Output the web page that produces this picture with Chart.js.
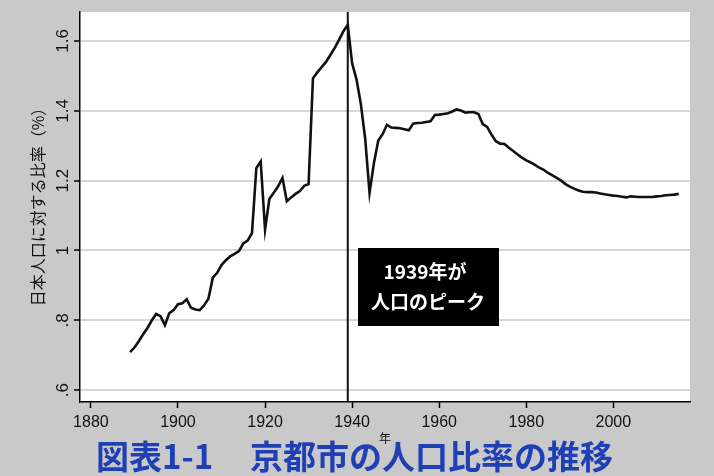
<!DOCTYPE html>
<html>
<head>
<meta charset="utf-8">
<script src="https://cdn.jsdelivr.net/npm/chart.js@4"></script>
<style>
  html, body { margin: 0; padding: 0; background: #c9c9c9; }
  canvas { display: block; }
</style>
</head>
<body>
<canvas id="chart" width="714" height="476"></canvas>
<script>
// 京都市の人口 / 日本の人口 (%)
const years = [
  1889, 1890, 1891, 1892, 1893, 1894, 1895, 1896, 1897, 1898, 1899,
  1900, 1901, 1902, 1903, 1904, 1905, 1906, 1907, 1908, 1909,
  1910, 1911, 1912, 1913, 1914, 1915, 1916, 1917, 1918, 1919,
  1920, 1921, 1922, 1923, 1924, 1925, 1926, 1927, 1928, 1929,
  1930, 1931, 1932, 1933, 1934, 1935, 1936, 1937, 1938, 1939,
  1940, 1941, 1942, 1943, 1944, 1945, 1946, 1947, 1948, 1949,
  1950, 1951, 1952, 1953, 1954, 1955, 1956, 1957, 1958, 1959,
  1960, 1961, 1962, 1963, 1964, 1965, 1966, 1967, 1968, 1969,
  1970, 1971, 1972, 1973, 1974, 1975, 1976, 1977, 1978, 1979,
  1980, 1981, 1982, 1983, 1984, 1985, 1986, 1987, 1988, 1989,
  1990, 1991, 1992, 1993, 1994, 1995, 1996, 1997, 1998, 1999,
  2000, 2001, 2002, 2003, 2004, 2005, 2006, 2007, 2008, 2009,
  2010, 2011, 2012, 2013, 2014, 2015
];
const ratio = [
  0.709, 0.722, 0.740, 0.760, 0.778, 0.800, 0.818, 0.812, 0.786, 0.820, 0.829,
  0.846, 0.849, 0.860, 0.836, 0.831, 0.829, 0.843, 0.862, 0.922, 0.936,
  0.958, 0.972, 0.983, 0.990, 0.998, 1.020, 1.028, 1.050, 1.236, 1.255,
  1.060, 1.148, 1.165, 1.184, 1.208, 1.141, 1.152, 1.162, 1.170, 1.185,
  1.190, 1.493, 1.510, 1.525, 1.540, 1.560, 1.580, 1.603, 1.628, 1.646,
  1.536, 1.490, 1.420, 1.320, 1.165, 1.250, 1.315, 1.333, 1.360, 1.352,
  1.351, 1.350, 1.347, 1.344, 1.363, 1.365, 1.366, 1.368, 1.370, 1.388,
  1.389, 1.391, 1.393, 1.398, 1.404, 1.401, 1.395, 1.396, 1.396, 1.391,
  1.362, 1.354, 1.332, 1.313, 1.306, 1.305, 1.294, 1.285, 1.275, 1.266,
  1.258, 1.252, 1.245, 1.237, 1.231, 1.222, 1.215, 1.208, 1.200, 1.190,
  1.183, 1.177, 1.172, 1.168, 1.167, 1.167, 1.166, 1.163, 1.161, 1.159,
  1.157, 1.156, 1.154, 1.152, 1.155, 1.154, 1.153, 1.153, 1.153, 1.153,
  1.155, 1.156, 1.158, 1.159, 1.160, 1.162
];
const xTicks = [1880, 1900, 1920, 1940, 1960, 1980, 2000];
const yTicks = [0.6, 0.8, 1.0, 1.2, 1.4, 1.6];
const yTickLabels = ['.6', '.8', '1', '1.2', '1.4', '1.6'];
const peakYear = 1939;

const LATIN = '"Liberation Sans", Arial, sans-serif';
const JP = '"Noto Sans CJK JP", sans-serif';

const decor = {
  id: 'decor',
  beforeDraw(chart) {
    const { ctx, chartArea: a } = chart;
    ctx.save();
    ctx.fillStyle = '#c9c9c9';
    ctx.fillRect(0, 0, chart.width, chart.height);
    ctx.fillStyle = '#ffffff';
    ctx.fillRect(a.left, a.top, a.right - a.left, a.bottom - a.top);
    ctx.restore();
  },
  afterDatasetsDraw(chart) {
    const { ctx, chartArea: a, scales: { x, y } } = chart;
    ctx.save();

    // 1939年の縦線
    const px = x.getPixelForValue(peakYear);
    ctx.strokeStyle = '#111';
    ctx.lineWidth = 2;
    ctx.beginPath();
    ctx.moveTo(px, a.top);
    ctx.lineTo(px, a.bottom);
    ctx.stroke();

    // 注記
    ctx.fillStyle = '#000';
    ctx.fillRect(358, 248, 141, 78);
    ctx.fillStyle = '#fff';
    ctx.font = 'bold 19px ' + JP;
    ctx.textAlign = 'center';
    ctx.textBaseline = 'middle';
    ctx.fillText('1939年が', 425, 272);
    ctx.fillText('人口のピーク', 428, 302);

    // y目盛ラベル（回転）
    ctx.fillStyle = '#111';
    ctx.font = '17px ' + LATIN;
    yTicks.forEach((v, i) => {
      ctx.save();
      ctx.translate(63, y.getPixelForValue(v));
      ctx.rotate(-Math.PI / 2);
      ctx.fillText(yTickLabels[i], 0, 0);
      ctx.restore();
    });

    // y軸タイトル
    ctx.save();
    ctx.translate(38, 203);
    ctx.rotate(-Math.PI / 2);
    ctx.font = '16px ' + JP;
    ctx.fillText('日本人口に対する比率（%）', 0, 0);
    ctx.restore();

    // x軸タイトル
    ctx.font = '12px ' + JP;
    ctx.fillText('年', 385, 438);

    // 図表タイトル
    ctx.fillStyle = '#1f3fb4';
    ctx.font = 'bold 33px ' + JP;
    ctx.textAlign = 'left';
    ctx.fillText('図表1-1', 96, 456);
    ctx.fillText('京都市の人口比率の推移', 250, 456);

    ctx.restore();
  }
};

new Chart(document.getElementById('chart'), {
  type: 'line',
  data: {
    datasets: [{
      data: years.map((yr, i) => ({ x: yr, y: ratio[i] })),
      borderColor: '#111',
      borderWidth: 2.6,
      pointRadius: 0,
      tension: 0
    }]
  },
  options: {
    responsive: false,
    animation: false,
    layout: { padding: { left: 50, top: 12, right: 24, bottom: 0 } },
    plugins: { legend: { display: false }, tooltip: { enabled: false } },
    scales: {
      x: {
        type: 'linear',
        min: 1877.5,
        max: 2017.6,
        afterBuildTicks: s => { s.ticks = xTicks.map(v => ({ value: v })); },
        afterFit: s => { s.height = 74; },
        grid: { drawOnChartArea: false, drawTicks: true, tickLength: 6, tickColor: '#000', tickWidth: 1.5 },
        border: { color: '#000', width: 1.5 },
        ticks: {
          font: { family: LATIN, size: 16 },
          color: '#111',
          padding: 5,
          maxRotation: 0,
          autoSkip: false,
          callback: v => String(v)
        }
      },
      y: {
        min: 0.566,
        max: 1.683,
        afterBuildTicks: s => { s.ticks = yTicks.map(v => ({ value: v })); },
        afterFit: s => { s.width = 30; },
        grid: { color: '#d6d6d6', lineWidth: 2, tickLength: 6, tickColor: '#000', tickWidth: 1.5 },
        border: { color: '#000', width: 1.5 },
        ticks: { display: false }
      }
    }
  },
  plugins: [decor]
});
</script>
</body>
</html>
